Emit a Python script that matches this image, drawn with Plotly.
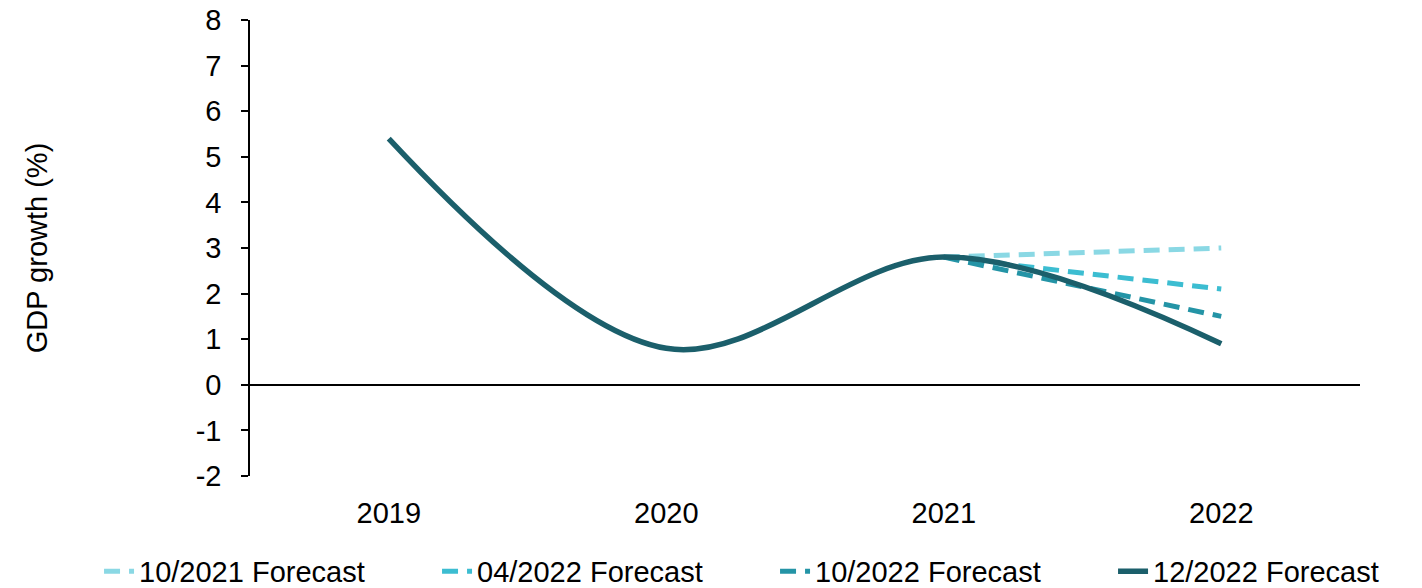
import plotly.graph_objects as go

years = ["2019", "2020", "2021", "2022"]
f_10_2021 = [None, None, 2.8, 3.0]
f_04_2022 = [None, None, 2.8, 2.1]
f_10_2022 = [None, None, 2.8, 1.5]
f_12_2022 = [5.4, 0.8, 2.8, 0.9]

y_tickvals = [-2, -1, 0, 1, 2, 3, 4, 5, 6, 7, 8]
y_ticktext = ["-2", "-1", "0", "1", "2", "3", "4", "5", "6", "7", "8"]

series = [
    ("10/2021 Forecast", f_10_2021, "#8AD8E4", "16px,9px", 5),
    ("04/2022 Forecast", f_04_2022, "#3CBDD1", "16px,9px", 5),
    ("10/2022 Forecast", f_10_2022, "#2494A6", "16px,9px", 5),
    ("12/2022 Forecast", f_12_2022, "#1B5F6B", "solid", 5.5),
]

fig = go.Figure()
for name, vals, color, dash, w in series:
    fig.add_trace(go.Scatter(
        x=years, y=vals, name=name, mode="lines",
        line=dict(color=color, width=w, dash=dash, shape="spline", smoothing=1.0),
        connectgaps=False,
    ))

font = dict(family="Liberation Sans, Arial, sans-serif", size=29, color="#000000")

fig.update_layout(
    width=1422, height=588,
    margin=dict(l=250, r=62, t=20, b=112, autoexpand=False),
    paper_bgcolor="white", plot_bgcolor="white",
    font=font,
    showlegend=True,
    legend=dict(
        orientation="h",
        x=-0.136, y=-0.209, xanchor="left", yanchor="middle",
        font=font,
        entrywidth=293, entrywidthmode="pixels",
        bgcolor="rgba(0,0,0,0)",
        tracegroupgap=0,
    ),
)

fig.update_xaxes(
    type="category",
    range=[-0.5, 3.5],
    showline=False, showgrid=False, zeroline=False,
    ticks="", ticklabelstandoff=17,
    tickfont=font, automargin=False,
)
fig.update_yaxes(
    range=[-2, 8],
    tickmode="array", tickvals=y_tickvals, ticktext=y_ticktext,
    showline=True, linecolor="#000000", linewidth=1.5,
    ticks="outside", ticklen=7, tickcolor="#000000", tickwidth=1.5,
    showgrid=False,
    zeroline=True, zerolinecolor="#000000", zerolinewidth=1.5,
    ticklabelstandoff=14,
    tickfont=font, automargin=False,
    title=dict(text="GDP growth (%)", font=font, standoff=140),
)

fig.write_html("out.html", config={"displayModeBar": False},
               post_script="document.body.style.margin='0';")
